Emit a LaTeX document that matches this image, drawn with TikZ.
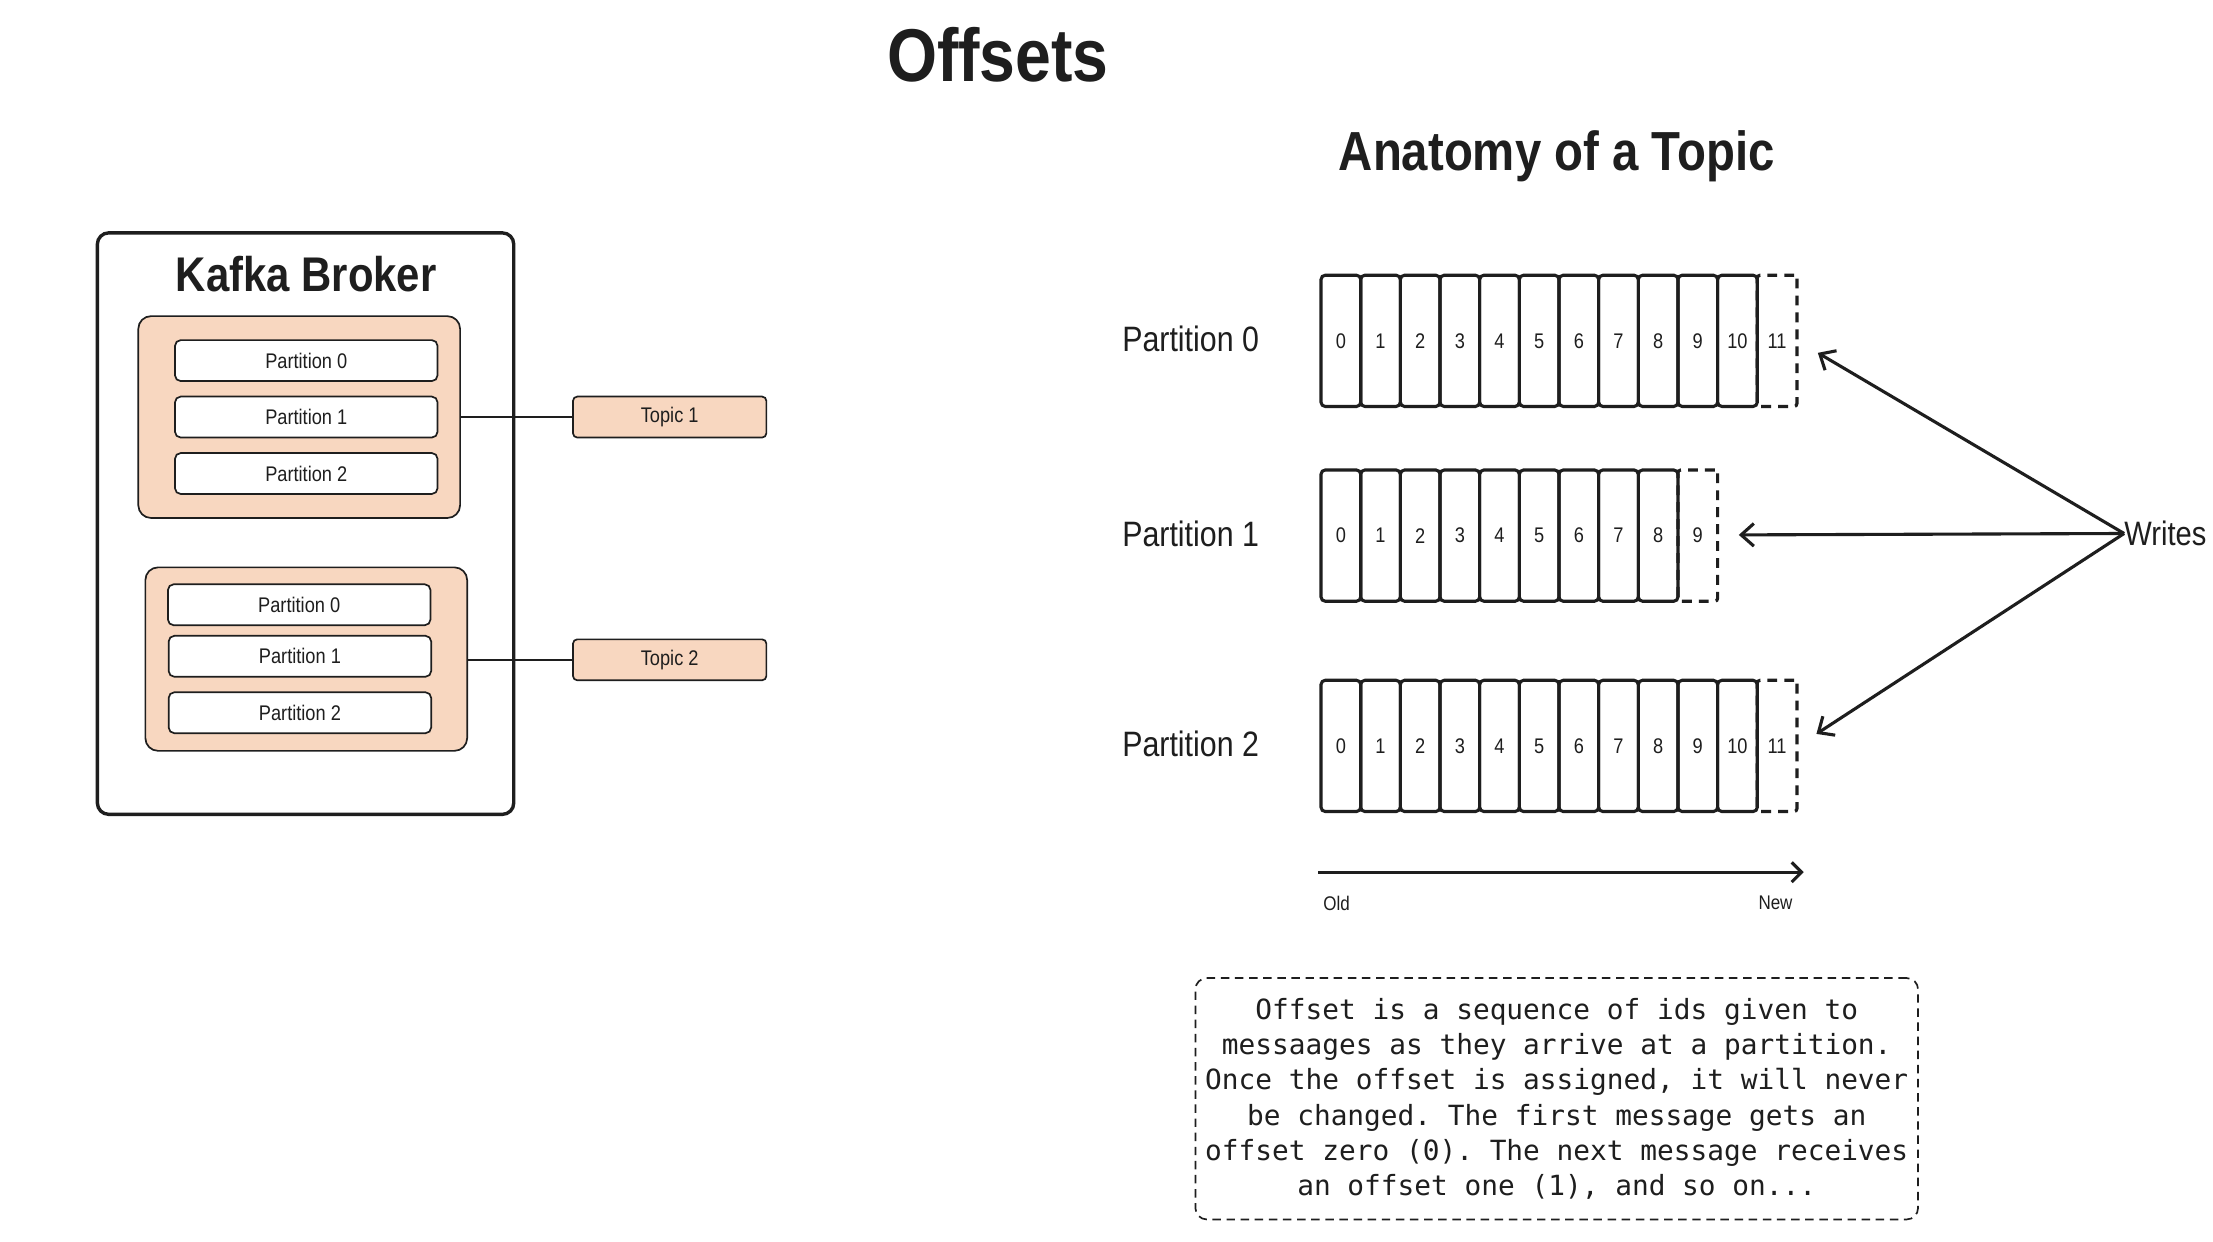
\documentclass[tikz,border=0pt]{standalone}
\usepackage{fontspec}
\setmainfont{Liberation Sans}[FakeStretch=0.86]
\setmonofont{DejaVu Sans Mono}
\usetikzlibrary{arrows.meta}
\definecolor{ink}{HTML}{1E1E1E}
\definecolor{peach}{HTML}{F8D7C0}
\tikzset{
  brokerbox/.style={draw=ink, line width=2.4pt, rounded corners=8pt},
  grpbox/.style={draw=ink, fill=peach, line width=1.2pt, rounded corners=9pt, inner sep=0pt},
  pbox/.style={draw=ink, fill=white, line width=1.2pt, rounded corners=4pt, inner sep=0pt,
    minimum width=186pt, minimum height=29pt, text=ink, font=\fontsize{15}{15}\selectfont},
  topicbox/.style={draw=ink, fill=peach, line width=1.2pt, rounded corners=3pt, inner sep=0pt,
    minimum width=137pt, minimum height=29pt, text=ink, font=\fontsize{15}{15}\selectfont},
  cellbox/.style={draw=ink, line width=2.2pt, rounded corners=3pt, inner sep=0pt,
    minimum width=28.1pt, minimum height=93pt, text=ink, font=\fontsize{15}{15}\selectfont},
  dcellbox/.style={cellbox, dash pattern=on 7pt off 5pt, rounded corners=2pt},
  plabel/.style={anchor=west, inner sep=0pt, text=ink, font=\fontsize{25}{25}\selectfont},
  conn/.style={draw=ink, line width=1pt},
  warrow/.style={draw=ink, line width=2.2pt, -{Straight Barb[length=9pt,width=16pt,line width=2.2pt]}},
  smalltxt/.style={inner sep=0pt, text=ink, font=\fontsize{14}{14}\selectfont},
  headtxt/.style={inner sep=0pt, text=ink, font=\bfseries\fontsize{#1}{#1}\selectfont},
}
\begin{document}
\begin{tikzpicture}[x=1pt,y=-1pt]
\useasboundingbox[fill=white] (0,0) rectangle (1568,880);

% titles
\node[headtxt=53] (title) at (707,39) {Offsets};
\node[headtxt=39] (anat) at (1103,111) {Anatomy of a Topic};

% ---------- left: broker ----------
\node[brokerbox, minimum width=295pt, minimum height=412pt, inner sep=0pt] (broker) at (216.5,371) {};
\node[headtxt=34.5] (bname) at (217,194) {Kafka Broker};

\node[grpbox, minimum width=228pt, minimum height=143pt] (g1) at (212,295.5) {};
\node[pbox] (g1p0) at (217,255.5) {Partition 0};
\node[pbox] (g1p1) at (217,295.5) {Partition 1};
\node[pbox] (g1p2) at (217,335.5) {Partition 2};

\node[grpbox, minimum width=228pt, minimum height=130pt] (g2) at (217,467) {};
\node[pbox] (g2p0) at (212,428.5) {Partition 0};
\node[pbox] (g2p1) at (212.5,465) {Partition 1};
\node[pbox] (g2p2) at (212.5,505) {Partition 2};

\node[topicbox] (t1) at (474.5,295.5) {Topic 1};
\node[topicbox] (t2) at (474.5,467.5) {Topic 2};

\draw[conn] (g1.east |- t1.west) -- (t1.west);
\draw[conn] (g2.east |- t2.west) -- (t2.west);

% ---------- right: anatomy ----------
\node[plabel] (lp0) at (795,240) {Partition 0};
\node[plabel] (lp1) at (795,378) {Partition 1};
\node[plabel] (lp2) at (795,527) {Partition 2};

% dashed (next) cells first
\node[dcellbox] (r0d) at ({936+28.1*11+14.05},241.5) {11};
\node[dcellbox] (r1d) at ({936+28.1*9+14.05},379.5) {9};
\node[dcellbox] (r2d) at ({936+28.1*11+14.05},528.5) {11};

\foreach \i in {0,...,10} {
  \node[cellbox] (r0c\i) at ({936+28.1*\i+14.05},241.5) {\i};
  \node[cellbox] (r2c\i) at ({936+28.1*\i+14.05},528.5) {\i};
}
\foreach \i in {0,...,8} {
  \node[cellbox] (r1c\i) at ({936+28.1*\i+14.05},379.5) {\i};
}

% writes
\node[inner sep=0pt, anchor=west, text=ink, font=\fontsize{24}{24}\selectfont] (writes) at (1505,378) {Writes};
\coordinate (w0) at (1288,250);
\coordinate (w1) at (1232,379);
\coordinate (w2) at (1287,520);
\draw[warrow] (writes.west) -- (w0);
\draw[warrow] (writes.west) -- (w1);
\draw[warrow] (writes.west) -- (w2);

% old -> new
\coordinate (oldS) at (934,618);
\coordinate (newE) at (1278,618);
\draw[warrow, -{Straight Barb[length=7pt,width=14pt,line width=2.2pt]}] (oldS) -- (newE);
\node[smalltxt] (old) at (947,640) {Old};
\node[smalltxt] (new) at (1258,640) {New};

% description box
\node[draw=ink, line width=1.2pt, dash pattern=on 6pt off 4pt, rounded corners=8pt,
  minimum width=512pt, minimum height=171pt, inner sep=0pt, align=center, text=ink,
  font=\ttfamily\fontsize{19.7}{25}\selectfont] (desc) at (1103,778.5)
  {Offset is a sequence of ids given to\\
   messaages as they arrive at a partition.\\
   Once the offset is assigned, it will never\\
   be changed. The first message gets an\\
   offset zero (0). The next message receives\\
   an offset one (1), and so on...};
\end{tikzpicture}
\end{document}
